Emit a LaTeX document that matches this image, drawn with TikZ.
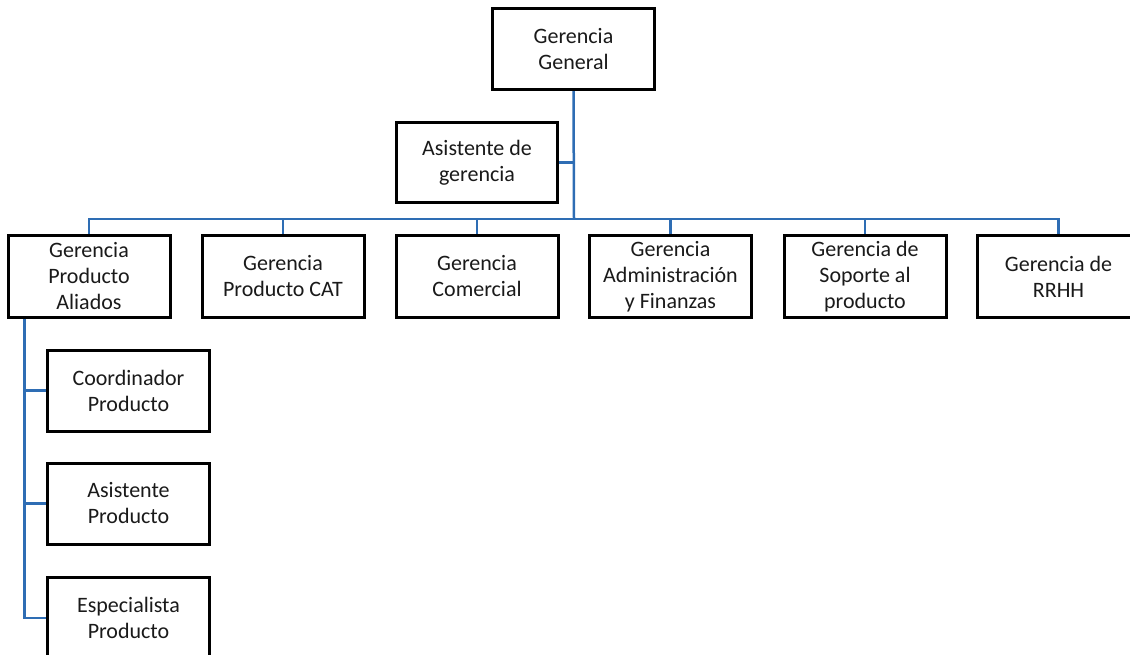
\documentclass[tikz,border=0pt]{standalone}
\usepackage{fontspec}
\setmainfont{Carlito}
\definecolor{linkblue}{HTML}{2E6DB4}
\definecolor{inktext}{HTML}{1A1A1A}
\begin{document}
\begin{tikzpicture}[x=1pt,y=-1pt,
  box/.style={draw=black,line width=2pt,fill=white,inner sep=0pt,align=center,
    minimum width=161pt,minimum height=80pt,text=inktext,
    font=\fontsize{22}{26}\selectfont},
  link/.style={draw=linkblue,line width=2.5pt}]
\useasboundingbox (0,0) rectangle (1130,654);
\clip (0,0) rectangle (1130,654);

% top level and assistant
\node[box] (gg) at (573.5,49) {Gerencia\\General};
\node[box,minimum width=160pt,minimum height=79pt] (ag) at (477,162.5) {Asistente de\\gerencia};

% second level
\node[box,minimum height=81pt] (b1) at (89,276.5) {Gerencia\\Producto\\Aliados};
\node[box,minimum height=81pt] (b2) at (283,276.5) {Gerencia\\Producto CAT};
\node[box,minimum height=81pt] (b3) at (477,276.5) {Gerencia\\Comercial};
\node[box,minimum height=81pt] (b4) at (670.5,276.5) {Gerencia\\Administración\\y Finanzas};
\node[box,minimum height=81pt] (b5) at (865,276.5) {Gerencia de\\Soporte al\\producto};
\node[box,minimum height=81pt] (b6) at (1058.5,276.5) {Gerencia de\\RRHH};

% third level under Gerencia Producto Aliados
\node[box] (c1) at (128.5,390.5) {Coordinador\\Producto};
\node[box] (c2) at (128.5,503.5) {Asistente\\Producto};
\node[box] (c3) at (128.5,618) {Especialista\\Producto};

% connectors
\coordinate (bus) at (574,219);
\coordinate (side) at ([xshift=17pt]b1.south west);
\draw[link] (gg.south) -- (bus);
\draw[link] (ag.east) -- (ag.east -| gg.south);
\draw[link] (b1.north) -- (b1.north |- bus) -- (b6.north |- bus) -- (b6.north);
\foreach \n in {b2,b3,b4,b5}
  \draw[link] (\n.north) -- (\n.north |- bus);
\draw[link] (side) -- (side |- c3.west) -- (c3.west);
\draw[link] (side |- c1.west) -- (c1.west);
\draw[link] (side |- c2.west) -- (c2.west);

% box outlines drawn over the connector ends
\foreach \n in {gg,ag,b1,b2,b3,b4,b5,b6,c1,c2,c3}
  \draw[black,line width=2pt] (\n.north west) rectangle (\n.south east);
\end{tikzpicture}
\end{document}
